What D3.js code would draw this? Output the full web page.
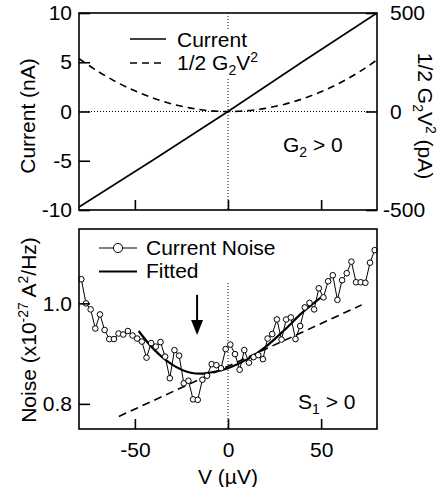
<!DOCTYPE html>
<html>
<head>
<meta charset="utf-8">
<script src="https://cdn.jsdelivr.net/npm/d3@7/dist/d3.min.js"></script>
<style>
	body { margin: 0; background: #fff; }
	text { font-family: "Liberation Sans", Arial, Helvetica, sans-serif; fill: #000; }
</style>
</head>
<body>
<div id="chart"></div>
<script>
// values
var currentV = [-80, -40, 0, 40, 80];
var currentNA = [-9.7, -4.9, 0, 5.05, 10.0];

var quadV = [-80, -70, -60, -50, -40, -30, -20, -10, 0, 10, 20, 30, 40, 50, 60, 70, 80];
var quadPA = [268, 205, 150, 105, 67, 38, 17, 4, 0, 4, 16, 36, 64, 100, 145, 198, 262];

var noiseV = [-78.75, -76.25, -73.75, -71.25, -68.75, -66.25, -63.75, -61.25, -58.75, -56.25,
	-53.75, -51.25, -48.75, -46.25, -43.75, -41.25, -38.75, -36.25, -33.75, -31.25,
	-28.75, -26.25, -23.75, -21.25, -18.75, -16.25, -13.75, -11.25, -8.75, -6.25,
	-3.75, -1.25, 1.25, 3.75, 6.25, 8.75, 11.25, 13.75, 16.25, 18.75,
	21.25, 23.75, 26.25, 28.75, 31.25, 33.75, 36.25, 38.75, 41.25, 43.75,
	46.25, 48.75, 51.25, 53.75, 56.25, 58.75, 61.25, 63.75, 66.25, 68.75,
	71.25, 73.75, 76.25, 78.75];
var noiseVal = [1.048, 1.000, 0.988, 0.950, 0.978, 0.947, 0.929, 0.929, 0.940, 0.938,
	0.945, 0.936, 0.930, 0.924, 0.892, 0.921, 0.914, 0.923, 0.894, 0.851,
	0.907, 0.896, 0.841, 0.846, 0.809, 0.808, 0.848, 0.856, 0.879, 0.877,
	0.871, 0.909, 0.918, 0.899, 0.868, 0.907, 0.882, 0.893, 0.897, 0.889,
	0.930, 0.939, 0.968, 0.928, 0.968, 0.972, 0.929, 0.955, 0.992, 1.001,
	0.988, 1.030, 1.012, 1.044, 1.056, 1.007, 1.046, 1.060, 1.083, 1.042,
	1.042, 1.041, 1.081, 1.106];

var fitV = [-48, -40, -30, -20, -15, -10, 0, 10, 20, 30, 40, 50];
var fitVal = [0.945, 0.909, 0.878, 0.862, 0.860, 0.862, 0.871, 0.888, 0.913, 0.946, 0.982, 1.012];

var slopeV = [-58.6, 71.8];
var slopeVal = [0.775, 0.997];

var arrowV = -16.6;
var arrowVal = [1.017, 0.937];

var xTicks = [-50, 0, 50];
var currentTicks = [-10, -5, 0, 5, 10];
var quadTicks = [-500, 0, 500];
var noiseTicks = [0.8, 1.0];

var svg, xScale, yCur, yQuad, yNoise;
var fs = 21;

// plain hyphen for negatives, like the original
function fmt(d) { return String(d); }

function init() {
	svg = d3.select("#chart")
		.append("svg")
		.attr("width", 448)
		.attr("height", 487);

	xScale = d3.scaleLinear().domain([-80, 80]).range([79, 377]);
	yCur = d3.scaleLinear().domain([-10, 10]).range([210, 13]);
	yQuad = d3.scaleLinear().domain([-500, 500]).range([210, 13]);
	yNoise = d3.scaleLinear().domain([0.75, 1.148]).range([429, 229]);

	drawTop();
	drawBottom();
}

// write a label made of normal / sub / sup pieces
function richText(sel, parts) {
	var shift = 0;
	parts.forEach(function(p) {
		var target = p[1] == "sub" ? 5 : (p[1] == "sup" ? -8 : 0);
		sel.append("tspan")
			.attr("dy", target - shift)
			.attr("font-size", p[1] == "base" ? null : 14)
			.text(p[0]);
		shift = target;
	});
}

function drawTop() {
	var g = svg.append("g");

	// zero guides
	g.append("line")
		.attr("x1", xScale(-80)).attr("x2", xScale(80))
		.attr("y1", yCur(0)).attr("y2", yCur(0))
		.attr("stroke", "#000").attr("stroke-width", 1)
		.attr("stroke-dasharray", "1,2");
	g.append("line")
		.attr("x1", xScale(0)).attr("x2", xScale(0))
		.attr("y1", yCur(10)).attr("y2", yCur(-10))
		.attr("stroke", "#000").attr("stroke-width", 1)
		.attr("stroke-dasharray", "1,2");

	// legend background hides the guide
	g.append("rect")
		.attr("x", 125).attr("y", 29)
		.attr("width", 140).attr("height", 49)
		.attr("fill", "#fff");

	var quadLine = d3.line()
		.x(function(d, i) { return xScale(quadV[i]); })
		.y(function(d) { return yQuad(d); })
		.curve(d3.curveMonotoneX);

	g.append("path")
		.datum(quadPA)
		.attr("d", quadLine)
		.attr("fill", "none")
		.attr("stroke", "#000")
		.attr("stroke-width", 1.6)
		.attr("stroke-dasharray", "7,5");

	var curLine = d3.line()
		.x(function(d, i) { return xScale(currentV[i]); })
		.y(function(d) { return yCur(d); });

	g.append("path")
		.datum(currentNA)
		.attr("d", curLine)
		.attr("fill", "none")
		.attr("stroke", "#000")
		.attr("stroke-width", 1.6);

	// legend
	g.append("line")
		.attr("x1", 130).attr("x2", 166).attr("y1", 39).attr("y2", 39)
		.attr("stroke", "#000").attr("stroke-width", 1.6);
	g.append("text")
		.attr("x", 177).attr("y", 46.5)
		.attr("font-size", fs)
		.text("Current");
	g.append("line")
		.attr("x1", 130).attr("x2", 166).attr("y1", 63).attr("y2", 63)
		.attr("stroke", "#000").attr("stroke-width", 1.6)
		.attr("stroke-dasharray", "7,5");
	richText(g.append("text").attr("x", 177).attr("y", 70).attr("font-size", fs),
		[["1/2 G", "base"], ["2", "sub"], ["V", "base"], ["2", "sup"]]);

	richText(g.append("text").attr("x", 283).attr("y", 152).attr("font-size", fs),
		[["G", "base"], ["2", "sub"], [" > 0", "base"]]);

	// frame
	g.append("rect")
		.attr("x", xScale(-80)).attr("y", yCur(10))
		.attr("width", xScale(80) - xScale(-80))
		.attr("height", yCur(-10) - yCur(10))
		.attr("fill", "none").attr("stroke", "#000").attr("stroke-width", 1.6);

	// axes
	var left = g.append("g")
		.attr("transform", "translate(" + xScale(-80) + ",0)")
		.call(d3.axisLeft(yCur).tickValues(currentTicks).tickFormat(fmt)
			.tickSizeInner(-11).tickSizeOuter(0).tickPadding(7));
	var right = g.append("g")
		.attr("transform", "translate(" + xScale(80) + ",0)")
		.call(d3.axisRight(yQuad).tickValues(quadTicks).tickFormat(fmt)
			.tickSizeInner(-11).tickSizeOuter(0).tickPadding(13));
	right.selectAll(".tick text")
		.attr("dx", function(d) { return d < 0 ? "-0.33em" : 0; });
	var bottom = g.append("g")
		.attr("transform", "translate(0," + yCur(-10) + ")")
		.call(d3.axisBottom(xScale).tickValues(xTicks)
			.tickSizeInner(-10).tickSizeOuter(0).tickFormat(""));

	[left, right, bottom].forEach(function(a) {
		a.attr("font-size", fs).attr("font-family", null);
		a.select(".domain").remove();
		a.selectAll(".tick line").attr("stroke-width", 1.6);
	});

	g.append("text")
		.attr("transform", "translate(35,116) rotate(-90)")
		.attr("text-anchor", "middle")
		.attr("font-size", fs)
		.text("Current (nA)");

	richText(g.append("text")
		.attr("transform", "translate(418,116) rotate(90)")
		.attr("text-anchor", "middle")
		.attr("font-size", fs),
		[["1/2 G", "base"], ["2", "sub"], ["V", "base"], ["2", "sup"], [" (pA)", "base"]]);
}

function drawBottom() {
	var g = svg.append("g");

	g.append("line")
		.attr("x1", xScale(0)).attr("x2", xScale(0))
		.attr("y1", 283).attr("y2", yNoise(0.75))
		.attr("stroke", "#000").attr("stroke-width", 1)
		.attr("stroke-dasharray", "1,2");

	// dashed linear term
	g.append("line")
		.attr("x1", xScale(slopeV[0])).attr("y1", yNoise(slopeVal[0]))
		.attr("x2", xScale(slopeV[1])).attr("y2", yNoise(slopeVal[1]))
		.attr("stroke", "#000").attr("stroke-width", 1.6)
		.attr("stroke-dasharray", "8,5");

	var noiseLine = d3.line()
		.x(function(d, i) { return xScale(noiseV[i]); })
		.y(function(d) { return yNoise(d); });

	g.append("path")
		.datum(noiseVal)
		.attr("d", noiseLine)
		.attr("fill", "none")
		.attr("stroke", "#000")
		.attr("stroke-width", 1);

	var fitLine = d3.line()
		.x(function(d, i) { return xScale(fitV[i]); })
		.y(function(d) { return yNoise(d); })
		.curve(d3.curveMonotoneX);

	g.append("path")
		.datum(fitVal)
		.attr("d", fitLine)
		.attr("fill", "none")
		.attr("stroke", "#000")
		.attr("stroke-width", 2.2);

	g.selectAll(".pt")
		.data(noiseVal)
		.enter().append("circle")
		.attr("class", "pt")
		.attr("cx", function(d, i) { return xScale(noiseV[i]); })
		.attr("cy", function(d) { return yNoise(d); })
		.attr("r", 2.8)
		.attr("fill", "#fff")
		.attr("stroke", "#000")
		.attr("stroke-width", 1);

	// arrow
	var ax = xScale(arrowV), tip = yNoise(arrowVal[1]);
	g.append("line")
		.attr("x1", ax).attr("x2", ax)
		.attr("y1", yNoise(arrowVal[0])).attr("y2", tip - 10)
		.attr("stroke", "#000").attr("stroke-width", 2);
	g.append("path")
		.attr("d", "M" + (ax - 6) + "," + (tip - 15) + "L" + (ax + 6) + "," + (tip - 15) + "L" + ax + "," + tip + "Z")
		.attr("fill", "#000");

	// legend
	g.append("line")
		.attr("x1", 99).attr("x2", 137).attr("y1", 248).attr("y2", 248)
		.attr("stroke", "#000").attr("stroke-width", 1);
	g.append("circle")
		.attr("cx", 118).attr("cy", 248).attr("r", 4.6)
		.attr("fill", "#fff").attr("stroke", "#000").attr("stroke-width", 1);
	g.append("text")
		.attr("x", 146).attr("y", 255)
		.attr("font-size", fs)
		.text("Current Noise");
	g.append("line")
		.attr("x1", 99).attr("x2", 137).attr("y1", 271.5).attr("y2", 271.5)
		.attr("stroke", "#000").attr("stroke-width", 2.2);
	g.append("text")
		.attr("x", 146).attr("y", 278)
		.attr("font-size", fs)
		.text("Fitted");

	richText(g.append("text").attr("x", 298).attr("y", 409).attr("font-size", fs),
		[["S", "base"], ["1", "sub"], [" > 0", "base"]]);

	// frame
	g.append("rect")
		.attr("x", xScale(-80)).attr("y", yNoise(1.148))
		.attr("width", xScale(80) - xScale(-80))
		.attr("height", yNoise(0.75) - yNoise(1.148))
		.attr("fill", "none").attr("stroke", "#000").attr("stroke-width", 1.6);

	var left = g.append("g")
		.attr("transform", "translate(" + xScale(-80) + ",0)")
		.call(d3.axisLeft(yNoise).tickValues(noiseTicks).tickFormat(d3.format(".1f"))
			.tickSizeInner(-11).tickSizeOuter(0).tickPadding(7));
	var bottom = g.append("g")
		.attr("transform", "translate(0," + yNoise(0.75) + ")")
		.call(d3.axisBottom(xScale).tickValues(xTicks).tickFormat(fmt)
			.tickSizeInner(-10).tickSizeOuter(0).tickPadding(13));

	[left, bottom].forEach(function(a) {
		a.attr("font-size", fs).attr("font-family", null);
		a.select(".domain").remove();
		a.selectAll(".tick line").attr("stroke-width", 1.6);
	});

	g.append("text")
		.attr("x", xScale(0)).attr("y", 484)
		.attr("text-anchor", "middle")
		.attr("font-size", fs)
		.text("V (\u00b5V)");

	richText(g.append("text")
		.attr("transform", "translate(36,330) rotate(-90)")
		.attr("text-anchor", "middle")
		.attr("font-size", fs),
		[["Noise (x10", "base"], ["-27", "sup"], [" A", "base"], ["2", "sup"], ["/Hz)", "base"]]);
}

init();
</script>
</body>
</html>
